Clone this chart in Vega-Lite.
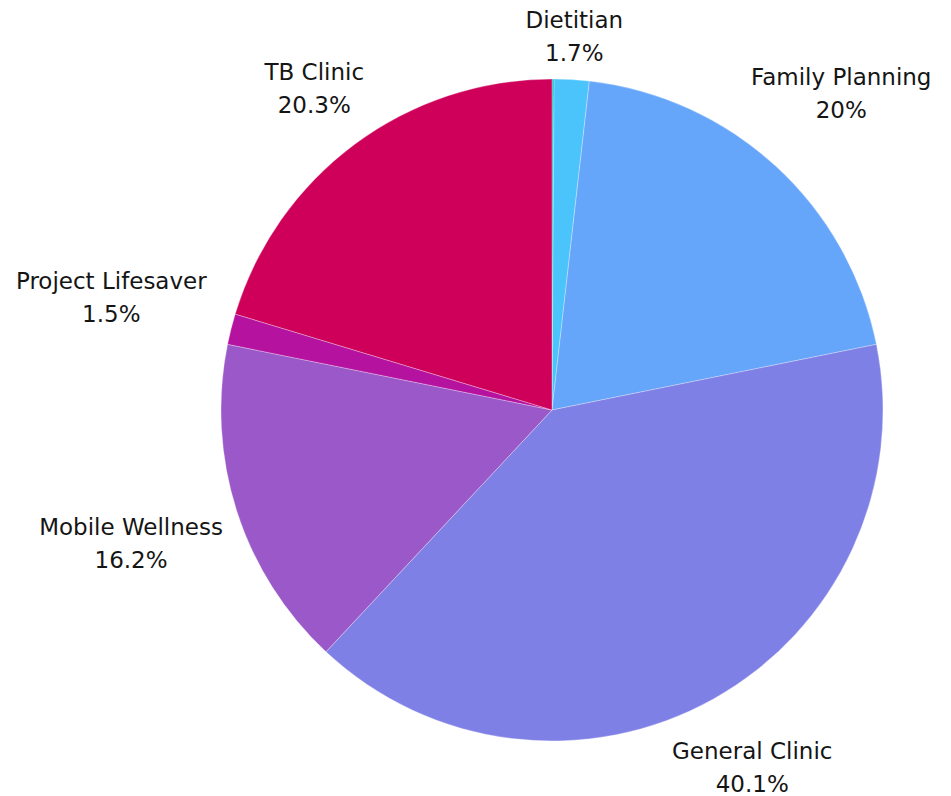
{
  "$schema": "https://vega.github.io/schema/vega-lite/v6.json",
  "autosize": "none",
  "width": 798,
  "height": 772,
  "padding": {"left": 153, "top": 24, "right": 0, "bottom": 0},
  "background": "#ffffff",
  "config": {"view": {"stroke": null}},
  "data": {
    "values": [
      {"rank": 1, "name": "Other", "value": 0.1, "label": ""},
      {"rank": 2, "name": "Dietitian", "value": 1.7, "label": "Dietitian\n1.7%"},
      {"rank": 3, "name": "Family Planning", "value": 20, "label": "Family Planning\n20%"},
      {"rank": 4, "name": "General Clinic", "value": 40.1, "label": "General Clinic\n40.1%"},
      {"rank": 5, "name": "Mobile Wellness", "value": 16.2, "label": "Mobile Wellness\n16.2%"},
      {"rank": 6, "name": "Project Lifesaver", "value": 1.5, "label": "Project Lifesaver\n1.5%"},
      {"rank": 7, "name": "TB Clinic", "value": 20.3, "label": "TB Clinic\n20.3%"}
    ]
  },
  "encoding": {
    "theta": {"field": "value", "type": "quantitative", "stack": true},
    "order": {"field": "rank", "type": "quantitative", "sort": "ascending"},
    "color": {
      "field": "name",
      "type": "nominal",
      "legend": null,
      "scale": {
        "domain": ["Other", "Dietitian", "Family Planning", "General Clinic", "Mobile Wellness", "Project Lifesaver", "TB Clinic"],
        "range": ["#0FB5C8", "#4BC4FB", "#66A6FA", "#7F80E6", "#9A58C9", "#B5139F", "#CF0059"]
      }
    }
  },
  "layer": [
    {
      "mark": {"type": "arc", "outerRadius": 331, "stroke": "#ffffff", "strokeWidth": 0.3}
    },
    {
      "mark": {
        "type": "text",
        "font": "DejaVu Sans",
        "fontSize": 23,
        "lineHeight": 33,
        "lineBreak": "\n",
        "align": "center",
        "baseline": "middle",
        "dy": -16.5,
        "color": "#151515",
        "radius": {"expr": "340 + abs(sin(PI*(datum.value_start+datum.value_end)/99.9))*6.5*length(datum.name) + abs(cos(PI*(datum.value_start+datum.value_end)/99.9))*30"}
      },
      "encoding": {
        "text": {"field": "label", "type": "nominal"},
        "color": {"value": "#151515"}
      }
    }
  ]
}
